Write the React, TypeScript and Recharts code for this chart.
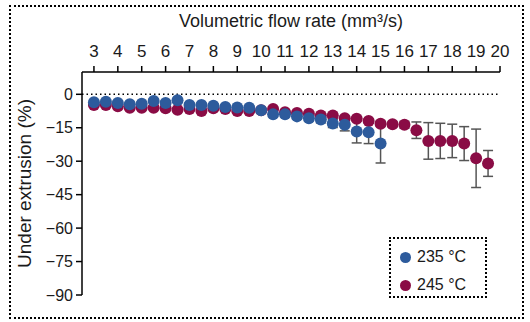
import { ScatterChart, Scatter, XAxis, YAxis, ErrorBar, ReferenceLine } from 'recharts'

const BLUE = '#2d5b9c'
const RED = '#8a0c45'
const FONT = 'Liberation Sans, Arial, sans-serif'

// 235 °C
const flow235 = [3, 3.5, 4, 4.5, 5, 5.5, 6, 6.5, 7, 7.5, 8, 8.5, 9, 9.5, 10, 10.5, 11, 11.5, 12, 12.5, 13, 13.5, 14, 14.5, 15]
const under235 = [-3.6, -3.3, -3.9, -4.5, -4.2, -3.0, -3.9, -2.7, -4.8, -4.8, -5.1, -5.7, -5.9, -6.0, -7.2, -9.0, -9.0, -9.9, -10.7, -11.3, -13.1, -13.7, -16.7, -17.0, -22.1]
const err235 = [0.8, 0.8, 0.8, 0.8, 0.8, 0.8, 0.8, 0.8, 0.8, 0.8, 0.8, 0.8, 0.8, 0.8, 1.0, 1.0, 1.0, 1.2, 1.2, 1.5, 1.8, 2.7, 5.1, 5.1, 8.7]

// 245 °C
const flow245 = [3, 3.5, 4, 4.5, 5, 5.5, 6, 6.5, 7, 7.5, 8, 8.5, 9, 9.5, 10, 10.5, 11, 11.5, 12, 12.5, 13, 13.5, 14, 14.5, 15, 15.5, 16, 16.5, 17, 17.5, 18, 18.5, 19, 19.5]
const under245 = [-4.8, -4.8, -5.4, -6.0, -6.0, -6.0, -6.3, -6.9, -6.6, -7.5, -6.3, -6.6, -7.5, -7.5, -7.2, -6.6, -8.1, -8.4, -8.7, -9.5, -9.5, -10.7, -11.0, -12.0, -13.2, -13.4, -13.7, -16.1, -20.9, -20.9, -20.9, -22.1, -28.7, -31.0]
const err245 = [0.8, 0.8, 0.8, 0.8, 0.8, 0.8, 0.8, 0.8, 0.8, 0.8, 0.8, 0.8, 0.8, 0.8, 0.8, 0.8, 0.8, 0.8, 0.8, 0.8, 1.0, 1.0, 1.0, 1.0, 1.2, 1.2, 1.5, 3.7, 8.2, 7.9, 7.5, 7.6, 13.1, 5.8]

const xTicks = [3, 4, 5, 6, 7, 8, 9, 10, 11, 12, 13, 14, 15, 16, 17, 18, 19, 20]
const yTicks = [0, -15, -30, -45, -60, -75, -90]

const data235 = flow235.map((x, i) => ({ x, y: under235[i], err: err235[i] }))
const data245 = flow245.map((x, i) => ({ x, y: under245[i], err: err245[i] }))

const dot = (color: string) => (props: any) => (
  <circle cx={props.cx} cy={props.cy} r={6} fill={color} />
)

function LegendBox() {
  const item = (color: string, label: string) => (
    <div style={{ display: 'flex', alignItems: 'center', height: 28 }}>
      <span style={{ width: 11, height: 11, borderRadius: '50%', background: color, marginRight: 6 }} />
      <span>{label}</span>
    </div>
  )
  return (
    <div
      style={{
        position: 'absolute',
        left: 389,
        top: 237,
        width: 98,
        height: 61,
        border: '2px dotted #000',
        fontFamily: FONT,
        fontSize: 16,
        color: '#1a1a1a',
        padding: '4px 0 0 9px',
        boxSizing: 'border-box',
      }}
    >
      {item(BLUE, '235 °C')}
      {item(RED, '245 °C')}
    </div>
  )
}

export default function App() {
  return (
    <div style={{ position: 'absolute', left: 0, top: 0, width: 530, height: 322, background: '#fff' }}>
      <div
        style={{
          position: 'absolute',
          left: 9,
          top: 5,
          width: 515,
          height: 314,
          border: '2px dotted #000',
          boxSizing: 'border-box',
        }}
      />
      <ScatterChart width={530} height={322} margin={{ top: 42, right: 30, bottom: 27, left: 22 }}>
        <XAxis
          dataKey="x"
          type="number"
          orientation="top"
          domain={[2.5, 20]}
          ticks={xTicks}
          interval={0}
          height={30}
          tickSize={6}
          tickMargin={9}
          stroke="#000"
          strokeWidth={1.5}
          tick={{ fill: '#1a1a1a', fontSize: 17, fontFamily: FONT }}
          label={{
            value: 'Volumetric flow rate (mm³/s)',
            position: 'top',
            offset: 15,
            style: { fill: '#1a1a1a', fontSize: 18, fontFamily: FONT },
          }}
        />
        <YAxis
          dataKey="y"
          type="number"
          domain={[-90, 10]}
          ticks={yTicks}
          interval={0}
          width={60}
          tickSize={6}
          tickMargin={3}
          stroke="#000"
          strokeWidth={1.5}
          tickFormatter={(v: number) => (v === 0 ? '0' : '\u2212' + Math.abs(v))}
          tick={{ fill: '#1a1a1a', fontSize: 16, fontFamily: FONT }}
          label={{
            value: 'Under extrusion (%)',
            angle: -90,
            position: 'insideLeft',
            offset: 2,
            style: { textAnchor: 'middle', fill: '#1a1a1a', fontSize: 19, fontFamily: FONT },
          }}
        />
        <ReferenceLine y={0} stroke="#000" strokeWidth={1.5} strokeDasharray="1.5 3" />
        <Scatter data={data245} fill={RED} shape={dot(RED)} isAnimationActive={false}>
          <ErrorBar dataKey="err" direction="y" width={5} stroke="#555" strokeWidth={1.5} />
        </Scatter>
        <Scatter data={data235} fill={BLUE} shape={dot(BLUE)} isAnimationActive={false}>
          <ErrorBar dataKey="err" direction="y" width={5} stroke="#555" strokeWidth={1.5} />
        </Scatter>
      </ScatterChart>
      <LegendBox />
    </div>
  )
}
